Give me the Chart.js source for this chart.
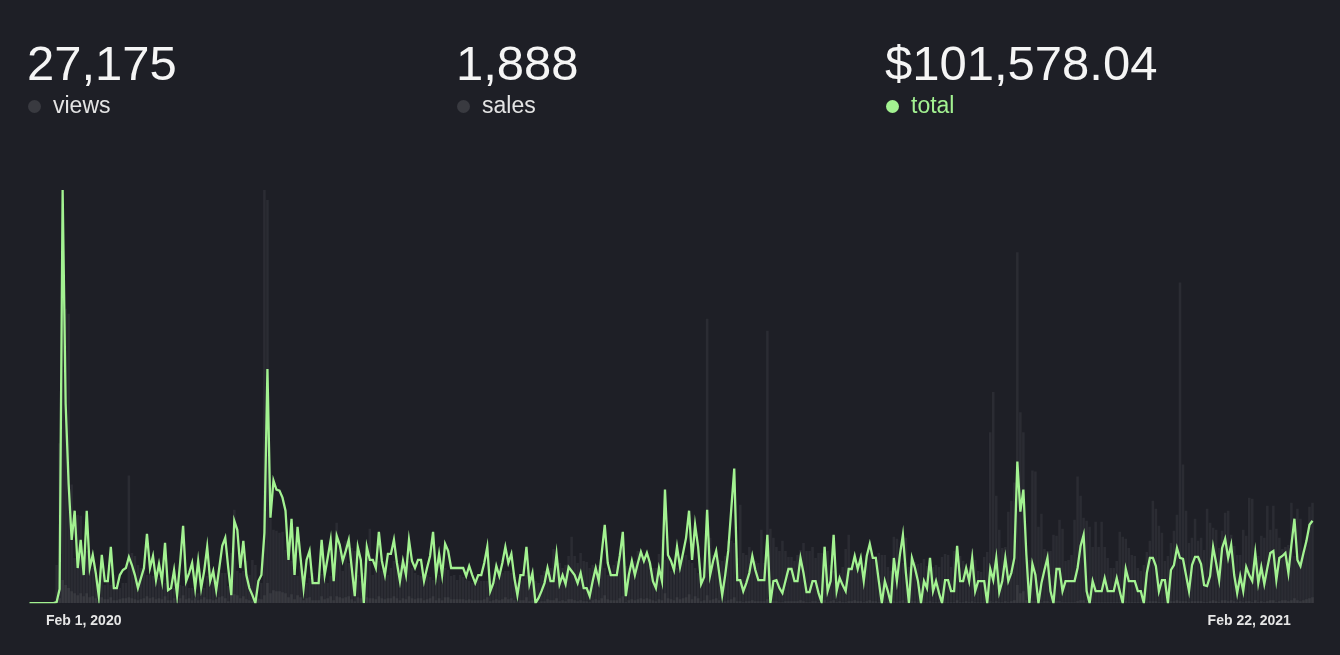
<!DOCTYPE html>
<html>
<head>
<meta charset="utf-8">
<title>Views, sales and total</title>
<script src="https://cdn.jsdelivr.net/npm/chart.js@4.4.1/dist/chart.umd.min.js"></script>
<style>
  html, body { margin: 0; padding: 0; background: #1e1f26; }
  body {
    width: 1340px; height: 655px; overflow: hidden; position: relative;
    font-family: "Helvetica Neue", "Liberation Sans", Arial, sans-serif;
  }
  #chartWrap { position: absolute; left: 0; top: 0; width: 1340px; height: 655px; }
  .stats { position: absolute; left: 27px; top: 0; display: flex; z-index: 2; }
  .stat { width: 429px; padding-top: 39px; }
  .value { font-size: 49px; line-height: 48px; font-weight: 300; color: #f5f5f5; }
  .label { display: flex; align-items: center; margin-top: 5px; height: 26px;
           font-size: 23px; line-height: 26px; color: #e4e4e4; }
  .dot { width: 13px; height: 13px; border-radius: 50%; background: #393a40;
         margin: 3px 12px 0 1px; }
  .stat.on .label { color: #a3f291; }
  .stat.on .dot { background: #a3f291; }
</style>
</head>
<body>
<div class="stats">
  <div class="stat"><div class="value">27,175</div><div class="label"><span class="dot"></span>views</div></div>
  <div class="stat"><div class="value">1,888</div><div class="label"><span class="dot"></span>sales</div></div>
  <div class="stat on"><div class="value">$101,578.04</div><div class="label"><span class="dot"></span>total</div></div>
</div>
<div id="chartWrap"><canvas id="chartDaily"></canvas></div>
<script>
// Daily series, one value per day from Jan 14, 2020

const totalDaily = [
  0,0,0,0,0,0,0,0,0,1,
  14,411,198,118,63,92,35,63,28,92,
  35,48,30,7,48,22,22,56,15,15,
  28,33,35,46,38,28,15,25,35,69,
  35,47,23,39,22,60,13,15,33,8,
  40,77,22,30,40,15,42,15,32,56,
  22,32,13,35,57,65,35,8,82,73,
  35,62,28,15,8,0,22,28,70,233,
  85,122,113,112,105,92,43,84,28,76,
  45,15,43,52,20,20,20,63,28,45,
  63,22,67,58,42,52,63,35,7,56,
  43,0,56,43,43,35,71,42,28,49,
  49,63,40,22,42,28,63,42,35,43,
  43,22,35,47,71,28,49,28,59,52,
  35,35,35,35,35,27,37,28,20,28,
  28,40,56,12,20,37,27,40,56,40,
  49,25,8,28,28,56,19,30,0,5,
  12,20,35,22,22,49,19,28,19,36,
  32,28,20,30,15,15,7,22,35,22,
  50,78,40,28,28,28,47,71,7,28,
  42,28,40,51,42,50,40,22,15,35,
  22,113,48,42,33,56,36,50,65,92,
  43,78,56,19,26,93,28,42,52,30,
  8,28,52,93,134,23,23,12,20,30,
  47,33,23,23,23,68,0,22,23,15,
  10,22,34,34,22,22,45,30,11,11,
  22,22,10,1,56,12,22,68,12,25,
  18,12,34,34,47,34,45,22,47,59,
  45,45,22,0,22,12,0,45,22,48,
  68,30,0,45,35,22,0,22,15,45,
  12,22,10,0,23,23,12,12,57,22,
  22,35,22,45,12,22,22,22,0,34,
  23,45,11,22,45,22,30,45,141,91,
  113,48,0,39,28,0,20,33,45,12,
  0,34,34,12,22,22,22,22,35,57,
  68,12,0,22,12,12,12,25,12,12,
  12,25,12,0,34,22,22,22,12,12,
  0,30,45,45,37,12,23,23,0,33,
  38,55,45,44,28,12,38,46,46,39,
  18,17,27,56,40,23,55,64,45,58,
  28,10,27,12,36,28,22,50,20,36,
  19,35,50,52,23,45,47,50,30,58,
  84,43,37,50,62,78,82
];

const viewsDaily = [
  0,0,0,0,0,0,0,0,0,38,
  159,358,293,288,118,45,88,87,47,52,
  40,35,28,15,28,18,22,18,28,15,
  15,20,20,127,50,47,38,35,37,28,
  28,27,28,25,22,20,22,18,15,18,
  18,17,22,15,15,12,10,12,15,27,
  20,22,15,32,30,30,17,50,93,32,
  30,32,42,28,43,38,5,20,411,401,
  84,73,72,70,71,53,57,42,35,27,
  37,32,20,25,30,22,25,29,23,20,
  27,25,80,52,32,62,40,55,52,28,
  22,30,45,74,28,33,42,32,30,28,
  35,42,42,38,33,30,42,35,30,28,
  27,28,28,26,23,22,28,19,35,33,
  27,28,23,28,26,23,22,20,22,23,
  22,22,22,22,18,25,28,30,32,32,
  30,28,20,22,25,28,30,25,22,20,
  28,32,30,35,54,45,40,35,38,47,
  66,47,40,50,42,41,35,38,35,38,
  47,35,28,32,38,42,50,65,37,35,
  40,42,52,52,47,43,42,35,35,49,
  63,43,45,32,37,35,42,47,48,43,
  40,35,30,33,35,283,65,48,45,43,
  42,47,62,62,60,45,98,50,48,56,
  45,42,40,73,40,271,74,65,56,52,
  62,52,46,46,42,48,53,60,52,52,
  56,45,50,50,57,52,38,32,22,30,
  36,54,68,35,37,40,36,36,47,52,
  47,47,50,48,48,36,32,66,64,45,
  40,65,36,47,41,39,40,44,37,43,
  36,38,36,46,49,48,36,52,42,47,
  42,32,33,54,43,32,31,46,51,170,
  210,107,73,55,56,91,102,120,349,190,
  170,45,43,132,131,76,89,54,52,52,
  68,67,83,74,42,43,48,83,126,107,
  85,82,76,56,81,56,81,56,45,35,
  35,42,71,66,64,55,48,47,35,32,
  38,51,62,102,94,77,70,42,47,60,
  72,88,319,138,92,60,65,84,62,65,
  53,94,80,75,73,55,72,90,92,68,
  57,48,48,73,67,105,104,50,47,67,
  65,97,73,97,74,65,54,56,58,100,
  47,94,84,53,67,96,100
];

const salesDaily = [
  0,0,0,0,0,0,0,0,0,0,
  5,23,18,15,12,10,8,10,7,10,
  6,7,5,3,6,4,4,6,3,3,
  4,5,5,6,5,4,3,4,5,7,
  5,6,4,5,4,7,3,3,5,2,
  5,8,4,5,3,5,3,4,6,4,
  4,3,4,6,7,5,2,8,9,8,
  5,7,4,3,2,0,4,4,8,20,
  10,13,12,12,11,10,6,9,4,8,
  6,3,5,6,3,3,3,7,4,5,
  7,3,7,6,5,6,7,4,2,6,
  5,0,6,5,5,4,7,5,4,5,
  5,7,5,3,5,4,7,5,4,5,
  5,3,4,5,7,3,5,3,6,6,
  4,4,4,4,4,3,4,3,3,3,
  3,4,6,2,3,4,3,4,6,4,
  5,3,1,3,3,6,2,3,0,1,
  2,2,4,3,3,5,2,3,2,4,
  4,3,2,3,2,2,1,3,4,3,
  5,8,4,3,3,3,5,7,1,3,
  4,3,4,5,4,5,4,3,2,4,
  3,10,5,4,3,6,4,5,6,9,
  4,7,5,2,3,8,3,4,5,3,
  1,2,3,4,6,2,2,1,2,2,
  3,2,2,2,2,4,0,2,2,1,
  1,2,2,2,2,2,3,2,1,1,
  2,2,1,0,3,1,2,3,1,2,
  1,1,2,2,3,2,2,1,2,3,
  2,2,1,0,1,1,0,2,1,2,
  3,1,0,2,2,1,0,1,1,2,
  1,1,1,0,1,1,1,1,3,1,
  1,2,1,2,1,1,1,1,0,2,
  1,2,1,1,2,1,2,3,18,10,
  12,3,0,2,2,0,1,2,2,1,
  0,2,2,1,1,1,1,1,2,3,
  3,1,0,1,1,1,1,1,1,1,
  1,1,1,0,2,1,1,1,1,1,
  0,1,2,2,2,1,1,1,0,2,
  2,3,2,2,2,1,2,2,2,2,
  1,1,2,3,2,1,3,3,2,3,
  2,1,2,1,2,2,1,3,1,2,
  1,2,3,3,1,2,3,3,2,3,
  5,3,2,3,4,5,6
];

// x categories: one per day; only these two get a visible tick label
const startDay = Date.UTC(2020, 0, 14);
const dayLabels = totalDaily.map((_, i) =>
  new Date(startDay + i * 86400000).toLocaleDateString('en-US', {
    month: 'short', day: 'numeric', year: 'numeric', timeZone: 'UTC'
  })
);
const shownTicks = ['Feb 1, 2020', 'Feb 22, 2021'];

const GREEN = '#a3f291';
const FONT = '"Helvetica Neue", "Liberation Sans", Arial, sans-serif';

new Chart(document.getElementById('chartDaily'), {
  type: 'bar',
  data: {
    labels: dayLabels,
    datasets: [
      {
        type: 'line',
        label: 'total',
        data: totalDaily,
        yAxisID: 'yTotal',
        borderColor: GREEN,
        borderWidth: 2.3,
        pointRadius: 0,
        tension: 0,
        fill: false,
      },
      {
        label: 'sales',
        data: salesDaily,
        yAxisID: 'yCount',
        backgroundColor: '#393a40',
        grouped: false,
        barPercentage: 0.85,
        categoryPercentage: 1,
      },
      {
        label: 'views',
        data: viewsDaily,
        yAxisID: 'yCount',
        backgroundColor: '#2b2c33',
        grouped: false,
        barPercentage: 0.85,
        categoryPercentage: 1,
      }
    ]
  },
  options: {
    responsive: true,
    maintainAspectRatio: false,
    animation: false,
    layout: { padding: { left: 28, right: 26, top: 190, bottom: 23 } },
    plugins: { legend: { display: false }, tooltip: { enabled: false } },
    scales: {
      x: {
        grid: { display: false },
        border: { display: false },
        ticks: {
          autoSkip: false,
          maxRotation: 0,
          minRotation: 0,
          padding: 2,
          color: '#e6e6e6',
          font: { family: FONT, size: 14, weight: 'bold' },
          callback: (v, i) => shownTicks.includes(dayLabels[i]) ? dayLabels[i] : ''
        }
      },
      yCount: { display: false, min: 0, max: Math.max(...viewsDaily) },
      yTotal: { display: false, min: 0, max: Math.max(...totalDaily) }
    }
  }
});
</script>
</body>
</html>
